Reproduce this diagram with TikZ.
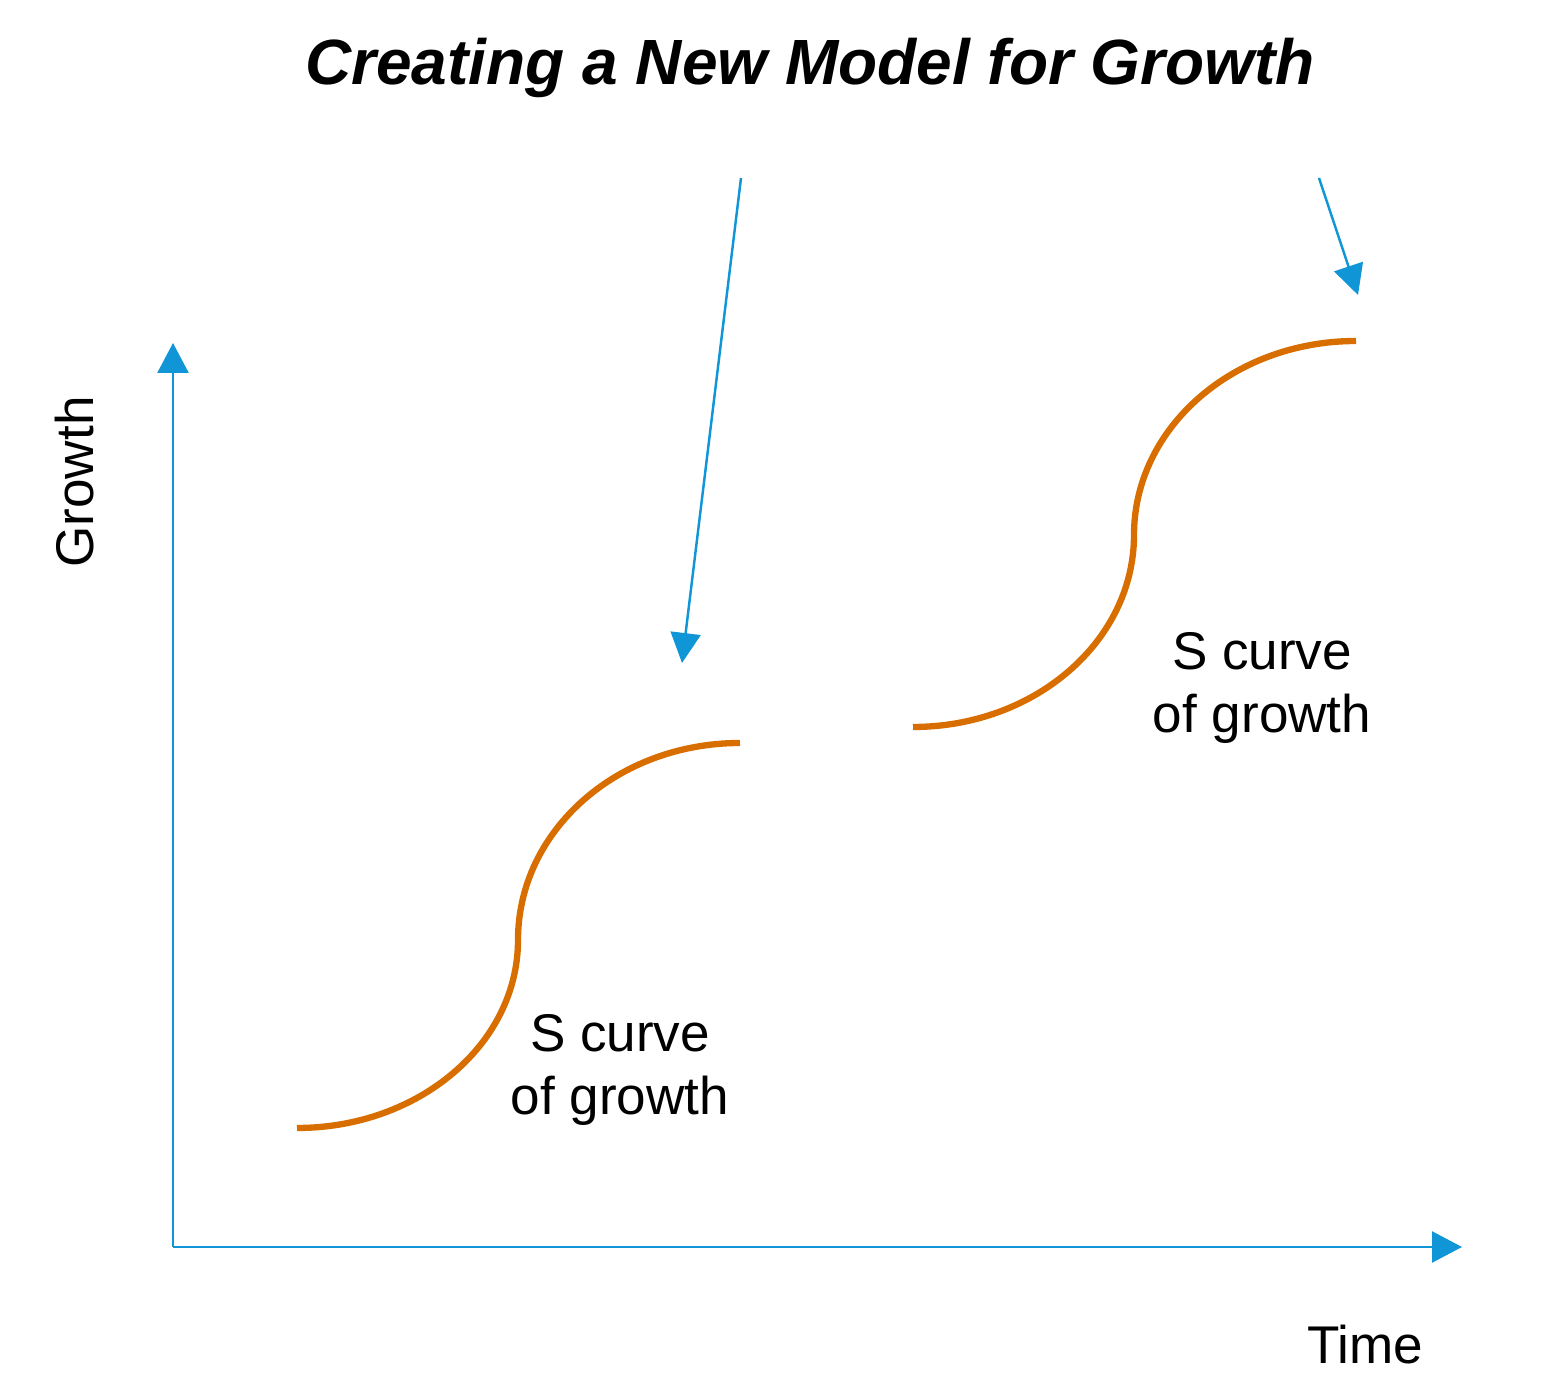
\documentclass[tikz,border=0pt]{standalone}
\usepackage{fontspec}
\setmainfont{Liberation Sans}
\usetikzlibrary{arrows.meta}
\definecolor{axisBlue}{RGB}{16,150,214}
\definecolor{curveOrange}{RGB}{217,110,0}
\tikzset{axis/.style={draw=axisBlue, line width=0.7pt, -{Triangle[length=0.3cm,width=0.31cm]}}}
\tikzset{pointer/.style={draw=axisBlue, line width=0.7pt, -{Triangle[length=0.3cm,width=0.3cm]}}}
\tikzset{sCurve/.style={draw=curveOrange, line width=1.8pt}}
\tikzset{label/.style={font=\fontsize{15.1}{18.2}\selectfont, align=center}}
\begin{document}
\begin{tikzpicture}
\useasboundingbox (0,0) rectangle (15.47,13.83);

% title
\node[font=\fontsize{18.2}{22}\selectfont\bfseries\itshape] (title) at (8.10,13.15) {Creating a New Model for Growth};

% axes
\coordinate (origin) at (1.73,1.36);
\coordinate (yTop) at (1.73,10.40);
\coordinate (xEnd) at (14.62,1.36);
\draw[axis] (origin) -- (yTop);
\draw[axis] (origin) -- (xEnd);
\node[label, rotate=90] (growth) at (0.75,9.01) {Growth};
\node[label] (time) at (13.65,0.38) {Time};

% first S curve
\draw[sCurve] (2.97,2.55) .. controls (4.19,2.55) and (5.18,3.39) .. (5.18,4.43)
  .. controls (5.18,5.52) and (6.17,6.40) .. (7.40,6.40);
\node[label] (sFirst) at (6.20,3.13) {S curve\\of growth};

% second S curve
\draw[sCurve] (9.13,6.56) .. controls (10.35,6.56) and (11.34,7.42) .. (11.34,8.48)
  .. controls (11.34,9.55) and (12.33,10.42) .. (13.56,10.42);
\node[label] (sSecond) at (12.62,6.95) {S curve\\of growth};

% pointers
\coordinate (pFirstStart) at (7.41,12.05);
\coordinate (pFirstEnd) at (6.82,7.20);
\coordinate (pSecondStart) at (13.19,12.05);
\coordinate (pSecondEnd) at (13.58,10.88);
\draw[pointer] (pFirstStart) -- (pFirstEnd);
\draw[pointer] (pSecondStart) -- (pSecondEnd);
\end{tikzpicture}
\end{document}
